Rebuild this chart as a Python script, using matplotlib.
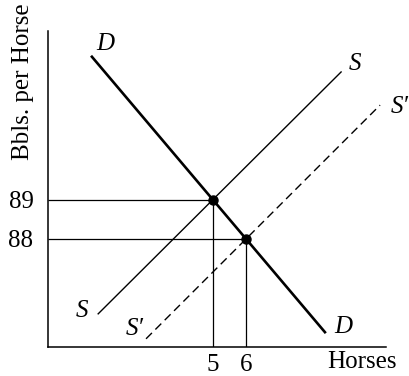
import numpy as np
import matplotlib
matplotlib.use("Agg")
import matplotlib.pyplot as plt

plt.rcParams['font.family'] = ['Liberation Serif', 'DejaVu Serif']

# demand curve D (thick), supply S and shifted supply S' (dashed)
demand_q = [1.33, 8.39]
demand_p = [92.67, 85.61]
supply_q = [1.52, 8.88]
supply_p = [86.08, 92.28]
supply2_q = [2.97, 10.06]
supply2_p = [85.44, 91.43]

# equilibrium points
eq_q = [5, 6]
eq_p = [89, 88]

xtick_labels = ['5', '6']
ytick_labels = ['89', '88']

W, H = 409, 376
fig = plt.figure(figsize=(W / 100, H / 100), dpi=100)
ax = fig.add_axes([48 / W, (H - 347) / H, (386 - 48) / W, (347 - 31) / H])
ax.set_xlim(0, 10.24)
ax.set_ylim(85.23, 93.33)

for side in ['top', 'right']:
    ax.spines[side].set_visible(False)
for side in ['left', 'bottom']:
    ax.spines[side].set_linewidth(1.1)

ax.set_xticks(eq_q)
ax.set_xticklabels(xtick_labels)
ax.set_yticks(eq_p)
ax.set_yticklabels(ytick_labels)
ax.tick_params(axis='both', length=0, labelsize=18)
ax.tick_params(axis='x', pad=5)
ax.tick_params(axis='y', pad=10.5)

# guide lines to the axes
y0 = ax.get_ylim()[0]
for q, p in zip(eq_q, eq_p):
    ax.plot([0, q], [p, p], color='black', lw=0.9, solid_capstyle='butt')
    ax.plot([q, q], [y0, p], color='black', lw=0.9, solid_capstyle='butt')

ax.plot(supply_q, supply_p, color='black', lw=1.0)
ax.plot(supply2_q, supply2_p, color='black', lw=1.0, dashes=(6, 3.5))
ax.plot(demand_q, demand_p, color='black', lw=1.9)
ax.plot(eq_q, eq_p, 'o', color='black', markersize=6.5)

lab = dict(fontsize=18, style='italic', ha='center', va='center')
ax.text(demand_q[0] + 0.42, demand_p[0] + 0.32, 'D', **lab)
ax.text(demand_q[1] + 0.55, demand_p[1] + 0.12, 'D', **lab)
ax.text(supply_q[0] - 0.5, supply_p[0] + 0.08, 'S', **lab)
ax.text(supply_q[1] + 0.42, supply_p[1] + 0.2, 'S', **lab)
ax.text(supply2_q[0] - 0.33, supply2_p[0] + 0.25, 'S′', **lab)
ax.text(supply2_q[1] + 0.6, supply2_p[1] - 0.05, 'S′', clip_on=False, **lab)

fig.text(362 / W, 1 - 362 / H, 'Horses', fontsize=18, ha='center', va='center')
fig.text(23 / W, 1 - 82 / H, 'Bbls. per Horse', fontsize=18, rotation=90,
         ha='center', va='center')

fig.savefig('out.png', dpi=100)
